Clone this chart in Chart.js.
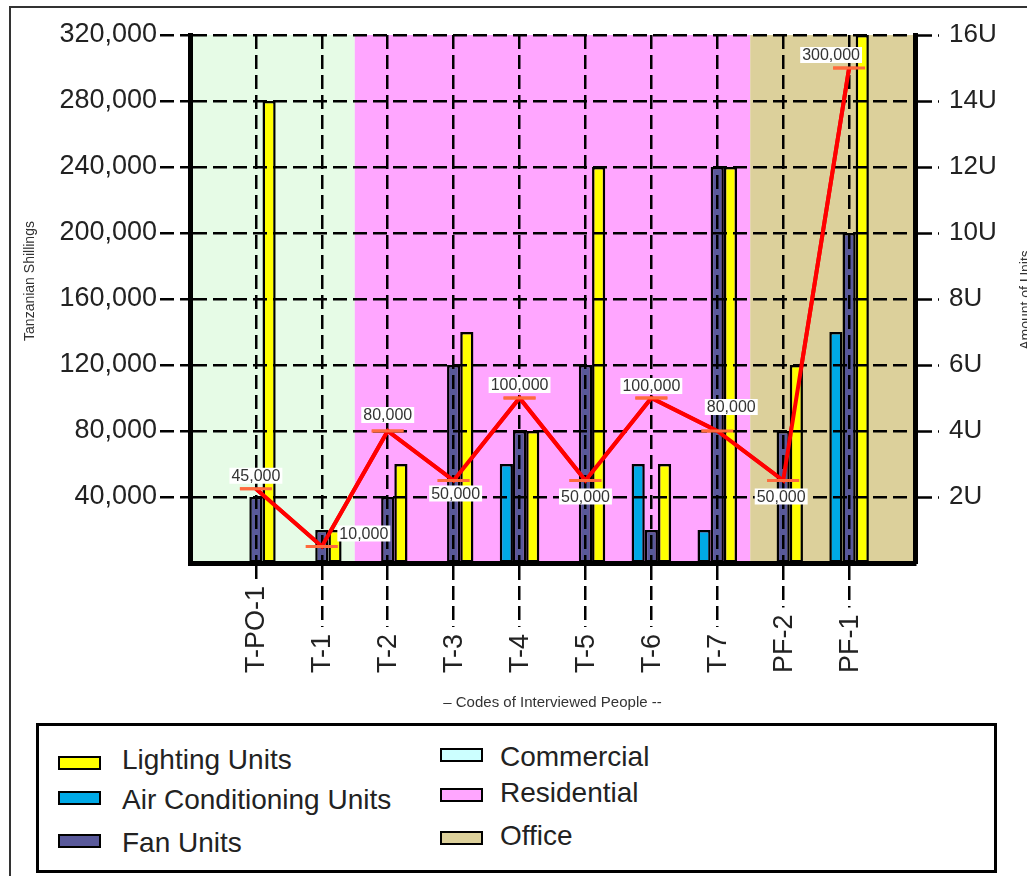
<!DOCTYPE html>
<html>
<head>
<meta charset="utf-8">
<script src="https://cdn.jsdelivr.net/npm/chart.js@4.4.1/dist/chart.umd.min.js"></script>
<style>
  body { margin: 0; background: #fff; overflow: hidden; width: 1027px; height: 876px; position: relative; font-family: "Liberation Sans", Arial, sans-serif; }
  #frame { position: absolute; left: 9px; top: 6px; width: 1100px; height: 1000px; border: 2px solid #333; }
  #chart { position: absolute; left: 0; top: 0; }
  #legend { position: absolute; left: 36px; top: 723px; width: 955px; height: 144px; border: 3px solid #000; background: #fff; }
  .txt { position: absolute; font-size: 28px; line-height: 28px; color: #222; white-space: nowrap; }
  .sw { position: absolute; width: 39px; height: 10px; border: 2px solid #000; }
</style>
</head>
<body>
<div id="frame"></div>
<canvas id="chart" width="1027" height="720"></canvas>
<div id="legend"></div>
<script>
const codes = ["T-PO-1", "T-1", "T-2", "T-3", "T-4", "T-5", "T-6", "T-7", "PF-2", "PF-1"];

// units (right axis)
const acUnits = [0, 0, 0, 0, 3, 0, 3, 1, 0, 7];
const fanUnits = [2, 1, 2, 6, 4, 6, 1, 12, 4, 10];
const lightingUnits = [14, 1, 3, 7, 4, 12, 3, 12, 6, 16];

// cost in Tanzanian Shillings (left axis)
const monthlyCost = [45000, 10000, 80000, 50000, 100000, 50000, 100000, 80000, 50000, 300000];

// building types shown as background bands
const sectorNames = ["Commercial", "Residential", "Office"];
const sectorFirst = ["T-PO-1", "T-2", "PF-2"];
const sectorLast = ["T-1", "T-7", "PF-1"];
const sectorBandColors = ["#E6FBE6", "#FFA6FF", "#DCD09B"];
const sectorLegendColors = ["#CCFFFF", "#FFA6FF", "#DCD09B"];

// where each cost label sits relative to its point
const costLabelOffsets = [[0, -13], [42, -13], [0, -16], [2, 13], [0, -13], [0, 16], [0, -12], [14, -24], [-2, 16], [-18, -13]];

const FONT = '"Liberation Sans", Arial, sans-serif';

// empty slots at both ends so the categories sit like the original
const labels = ["", ...codes, ""];
const pad = (arr) => [null, ...arr.map((v) => (v === 0 ? null : v)), null];

const bandsPlugin = {
  id: "bands",
  beforeDraw(chart) {
    const { ctx, chartArea: a, scales } = chart;
    const x = scales.x;
    const half = (x.getPixelForValue(1) - x.getPixelForValue(0)) / 2;
    ctx.save();
    sectorNames.forEach((name, i) => {
      const i0 = labels.indexOf(sectorFirst[i]);
      const i1 = labels.indexOf(sectorLast[i]);
      const x0 = i0 === 1 ? a.left : x.getPixelForValue(i0) - half;
      const x1 = i1 === labels.length - 2 ? a.right : x.getPixelForValue(i1) + half;
      ctx.fillStyle = sectorBandColors[i];
      ctx.fillRect(x0, a.top, x1 - x0, a.bottom - a.top);
    });
    ctx.restore();
  },
  afterDraw(chart) {
    const ctx = chart.ctx;
    const lineMeta = chart.getDatasetMeta(3);

    // line goes over the grid
    ctx.save();
    lineMeta.controller.draw();
    ctx.restore();

    // cost labels
    ctx.save();
    ctx.font = "16px " + FONT;
    ctx.textAlign = "center";
    ctx.textBaseline = "middle";
    lineMeta.data.forEach((pt, i) => {
      const v = chart.data.datasets[3].data[i];
      if (v == null) return;
      const off = costLabelOffsets[i - 1];
      const text = v.toLocaleString("en-US");
      const w = ctx.measureText(text).width + 4;
      const cx = pt.x + off[0];
      const cy = pt.y + off[1];
      ctx.fillStyle = "#fff";
      ctx.fillRect(cx - w / 2, cy - 8, w, 16);
      ctx.fillStyle = "#333";
      ctx.fillText(text, cx, cy + 1);
    });
    ctx.restore();

    // category labels, read upwards from a common baseline
    const x = chart.scales.x;
    ctx.save();
    ctx.font = "27px " + FONT;
    ctx.textAlign = "left";
    ctx.textBaseline = "middle";
    codes.forEach((c, i) => {
      const px = x.getPixelForValue(i + 1);
      const w = ctx.measureText(c).width;
      ctx.save();
      ctx.translate(px, 673);
      ctx.rotate(-Math.PI / 2);
      ctx.fillStyle = "#fff";
      ctx.fillRect(-3, -15, w + 10, 30);
      ctx.fillStyle = "#222";
      ctx.fillText(c, 0, 1);
      ctx.restore();
    });
    ctx.restore();

    // axis titles
    ctx.save();
    ctx.font = "14px " + FONT;
    ctx.fillStyle = "#333";
    ctx.textAlign = "center";
    ctx.textBaseline = "middle";
    ctx.translate(30, 281);
    ctx.rotate(-Math.PI / 2);
    ctx.fillText("Tanzanian Shillings", 0, 0);
    ctx.restore();
    ctx.save();
    ctx.font = "14px " + FONT;
    ctx.fillStyle = "#333";
    ctx.textAlign = "center";
    ctx.textBaseline = "middle";
    ctx.translate(1026, 300);
    ctx.rotate(-Math.PI / 2);
    ctx.fillText("Amount of Units", 0, 0);
    ctx.restore();
  },
};

const dash = [14, 6];

new Chart(document.getElementById("chart"), {
  type: "bar",
  data: {
    labels: labels,
    datasets: [
      {
        label: "Air Conditioning Units",
        data: pad(acUnits),
        backgroundColor: "#00A9E6",
        yAxisID: "y1",
      },
      {
        label: "Fan Units",
        data: pad(fanUnits),
        backgroundColor: "#59599A",
        yAxisID: "y1",
      },
      {
        label: "Lighting Units",
        data: pad(lightingUnits),
        backgroundColor: "#FFFF00",
        yAxisID: "y1",
      },
      {
        type: "line",
        label: "Cost",
        data: [null, ...monthlyCost, null],
        yAxisID: "y",
        borderColor: "#FF0000",
        borderWidth: 4,
        tension: 0,
        pointStyle: "line",
        pointRadius: 16,
        pointBorderColor: "#FF6A3D",
        pointBorderWidth: 3,
      },
    ],
  },
  options: {
    responsive: false,
    animation: false,
    devicePixelRatio: 1,
    layout: { padding: { top: 35, left: 0, right: 0, bottom: 0 } },
    datasets: {
      bar: {
        barPercentage: 1,
        categoryPercentage: 0.6,
        borderColor: "#000",
        borderWidth: 2.5,
        borderSkipped: false,
      },
    },
    plugins: {
      legend: { display: false },
      tooltip: { enabled: false },
    },
    scales: {
      x: {
        offset: false,
        afterFit: (s) => { s.height = 157; },
        ticks: { display: false, autoSkip: false },
        grid: {
          z: 1,
          offset: false,
          lineWidth: 2.5,
          tickLength: 65,
          tickWidth: 2.5,
          tickBorderDash: dash,
          color: (c) => (c.index === 0 || c.index === labels.length - 1 ? "transparent" : "#000"),
          tickColor: (c) => (c.index === 0 || c.index === labels.length - 1 ? "transparent" : "#000"),
        },
        border: { z: 2, width: 5, color: "#000", dash: dash },
        title: {
          display: true,
          text: "\u2013 Codes of Interviewed People --",
          font: { family: FONT, size: 15 },
          color: "#333",
          padding: { top: 0, bottom: 8 },
        },
      },
      y: {
        position: "left",
        min: 0,
        max: 320000,
        afterFit: (s) => { s.width = 190; },
        ticks: {
          stepSize: 40000,
          padding: 3,
          color: "#222",
          font: { family: FONT, size: 27 },
          callback: (v) => (v === 0 ? "" : v.toLocaleString("en-US")),
        },
        grid: {
          z: 1,
          lineWidth: 2.5,
          tickLength: 30,
          tickWidth: 2.5,
          tickBorderDash: dash,
          color: "#000",
          tickColor: (c) => (c.tick && c.tick.value === 0 ? "transparent" : "#000"),
        },
        border: { z: 2, width: 5, color: "#000", dash: dash },
      },
      y1: {
        position: "right",
        min: 0,
        max: 16,
        afterFit: (s) => { s.width = 112; },
        ticks: {
          stepSize: 2,
          padding: 10,
          color: "#222",
          font: { family: FONT, size: 26 },
          callback: (v) => (v === 0 ? "" : v + "U"),
        },
        grid: {
          z: 1,
          drawOnChartArea: false,
          tickLength: 24,
          tickWidth: 2.5,
          tickBorderDash: dash,
          tickColor: (c) => (c.tick && c.tick.value === 0 ? "transparent" : "#000"),
        },
        border: { z: 2, width: 5, color: "#000" },
      },
    },
  },
  plugins: [bandsPlugin],
});

// legend
const legendItems = [
  { label: "Lighting Units", color: "#FFFF00", sx: 19, sy: 30, tx: 83, ty: 20 },
  { label: "Air Conditioning Units", color: "#00A9E6", sx: 19, sy: 65, tx: 83, ty: 60 },
  { label: "Fan Units", color: "#59599A", sx: 19, sy: 108, tx: 83, ty: 103 },
];
const legendTops = [[22, 17], [62, 53], [105, 96]];
sectorNames.forEach((name, i) => {
  legendItems.push({ label: name, color: sectorLegendColors[i], sx: 401, sy: legendTops[i][0], tx: 461, ty: legendTops[i][1] });
});
const legend = document.getElementById("legend");
legendItems.forEach((it) => {
  const sw = document.createElement("div");
  sw.className = "sw";
  sw.style.left = it.sx + "px";
  sw.style.top = it.sy + "px";
  sw.style.background = it.color;
  legend.appendChild(sw);
  const t = document.createElement("div");
  t.className = "txt";
  t.style.left = it.tx + "px";
  t.style.top = it.ty + "px";
  t.textContent = it.label;
  legend.appendChild(t);
});
</script>
</body>
</html>
